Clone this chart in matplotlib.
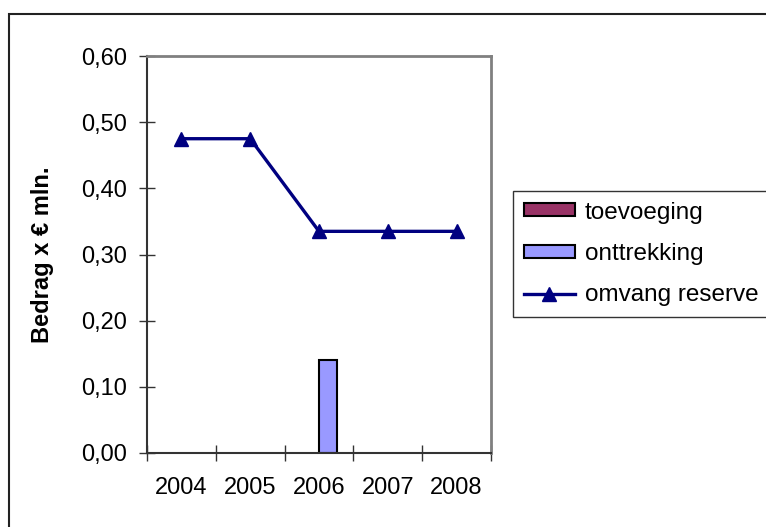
import matplotlib
matplotlib.use('Agg')
import matplotlib.pyplot as plt
import numpy as np
from matplotlib.patches import Rectangle, Patch
from matplotlib.ticker import FuncFormatter, FixedLocator

years = ['2004', '2005', '2006', '2007', '2008']
toevoeging = [0.0, 0.0, 0.0, 0.0, 0.0]
onttrekking = [0.0, 0.0, 0.14, 0.0, 0.0]
omvang_reserve = [0.475, 0.475, 0.335, 0.335, 0.335]

plt.rcParams['font.family'] = ['Liberation Sans', 'DejaVu Sans']
fs = 17

fig = plt.figure(figsize=(7.66, 5.27), dpi=100)
ax = fig.add_axes([147 / 766, 74 / 527, 344 / 766, 397 / 527])

x = np.arange(len(years))
w = 0.26
# bars with zero height get no outline, as in the original
ax.bar(x - w / 2, toevoeging, w, color='#993366', edgecolor='black',
       linewidth=[1.5 if v else 0 for v in toevoeging])
ax.bar(x + w / 2, onttrekking, w, color='#9999FF', edgecolor='black',
       linewidth=[1.5 if v else 0 for v in onttrekking])
line, = ax.plot(x, omvang_reserve, color='#000080', linewidth=2.4, marker='^',
                markersize=10, label='omvang reserve')

ax.set_xlim(-0.5, len(years) - 0.5)
ax.set_ylim(0, 0.6)
ax.set_yticks(np.arange(0, 0.61, 0.1))
ax.yaxis.set_major_formatter(FuncFormatter(lambda v, p: f'{v:.2f}'.replace('.', ',')))
ax.tick_params(axis='y', direction='inout', length=11, width=1, colors='#333333',
               labelcolor='black', labelsize=fs, pad=9)

# tick marks between categories, labels at the centres
ax.xaxis.set_major_locator(FixedLocator(np.arange(-0.5, len(years), 1.0)))
ax.xaxis.set_minor_locator(FixedLocator(x))
ax.set_xticklabels([], minor=False)
ax.set_xticks(x, years, minor=True)
ax.tick_params(axis='x', which='major', direction='inout', length=11, width=1,
               colors='#333333')
ax.tick_params(axis='x', which='minor', length=0, labelsize=fs, pad=17,
               labelcolor='black')

for s in ['top', 'right']:
    ax.spines[s].set_color('#808080')
    ax.spines[s].set_linewidth(2)
for s in ['left', 'bottom']:
    ax.spines[s].set_color('#333333')
    ax.spines[s].set_linewidth(1.5)

ax.set_ylabel('Bedrag x € mln.', fontsize=fs, fontweight='bold', labelpad=19)

handles = [Patch(facecolor='#993366', edgecolor='black', linewidth=1.5),
           Patch(facecolor='#9999FF', edgecolor='black', linewidth=1.5),
           line]
labels = ['toevoeging', 'onttrekking', 'omvang reserve']
leg = ax.legend(handles, labels, loc='center left',
                bbox_to_anchor=(513 / 766, 1 - 254 / 527),
                bbox_transform=fig.transFigure, fontsize=17.5, frameon=True,
                fancybox=False, borderaxespad=0, handlelength=2.1,
                handletextpad=0.4, labelspacing=0.8, borderpad=0.45,
                handleheight=0.45)
leg.get_frame().set_edgecolor('black')
leg.get_frame().set_linewidth(1)

# outer chart border, right and bottom edges fall outside the image
fig.patches.append(Rectangle((9 / 766, -0.1), 1.2, (527 - 14) / 527 + 0.1,
                             transform=fig.transFigure, fill=False,
                             edgecolor='#222222', linewidth=1.5))

fig.savefig('out.png', dpi=100)
